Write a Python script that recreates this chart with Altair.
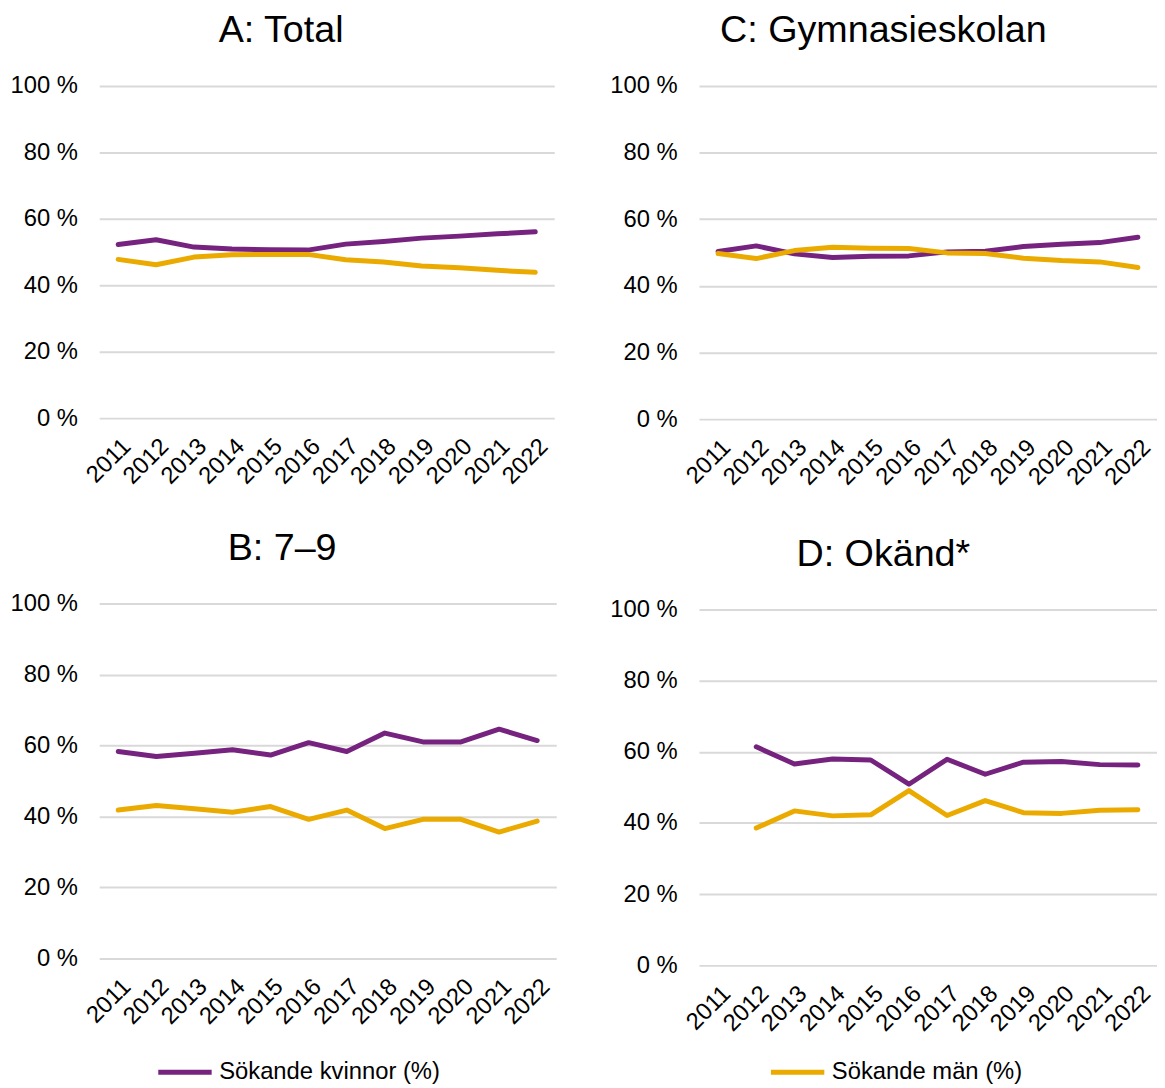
import altair as alt
import pandas as pd

FONT = "Liberation Sans"

years = list(range(2011, 2023))
series = ["Sökande kvinnor (%)", "Sökande män (%)"]
colors = ["#76237F", "#EBAA00"]

a_kvinnor = [52.3, 53.7, 51.5, 50.9, 50.7, 50.6, 52.4, 53.2, 54.2, 54.8, 55.5, 56.1]
a_man = [47.8, 46.2, 48.5, 49.2, 49.3, 49.3, 47.7, 47.0, 45.8, 45.3, 44.5, 43.9]

c_kvinnor = [50.3, 52.0, 49.6, 48.5, 48.9, 49.0, 50.2, 50.4, 51.8, 52.5, 53.0, 54.6]
c_man = [49.7, 48.2, 50.6, 51.6, 51.3, 51.2, 49.9, 49.7, 48.3, 47.6, 47.2, 45.5]

b_kvinnor = [58.3, 56.9, 57.8, 58.8, 57.3, 60.8, 58.3, 63.5, 61.0, 61.0, 64.6, 61.4]
b_man = [41.8, 43.1, 42.2, 41.2, 42.8, 39.2, 41.8, 36.6, 39.2, 39.2, 35.6, 38.7]

d_kvinnor = [None, 61.4, 56.6, 58.0, 57.7, 50.9, 57.9, 53.7, 57.1, 57.3, 56.4, 56.3]
d_man = [None, 38.6, 43.4, 42.0, 42.3, 49.1, 42.1, 46.3, 42.9, 42.7, 43.6, 43.7]

y_ticks = [0, 20, 40, 60, 80, 100]


def frame(kv, man):
    rows = []
    for yr, v in zip(years, kv):
        rows.append({"year": yr, "series": series[0], "value": v})
    for yr, v in zip(years, man):
        rows.append({"year": yr, "series": series[1], "value": v})
    return pd.DataFrame(rows)


legend = alt.Legend(
    orient="none", legendX=57, legendY=965, direction="horizontal", title=None,
    symbolType="stroke", symbolSize=2900, symbolStrokeWidth=5,
    labelFont=FONT, labelFontSize=24, labelColor="#000000", labelLimit=400,
    labelOffset=5, columnPadding=323,
)


def panel(title, kv, man, width, height, min_extent, title_offset):
    df = frame(kv, man)
    return alt.Chart(
        df,
        title=alt.Title(title, font=FONT, fontSize=38, fontWeight="normal", color="#000000",
                        offset=title_offset, anchor="middle", frame="bounds"),
    ).mark_line(strokeWidth=5, strokeCap="round", strokeJoin="round").encode(
        x=alt.X("year:O", scale=alt.Scale(type="point", padding=0.5, domain=years),
                axis=alt.Axis(title=None, labelAngle=-45, labelFont=FONT, labelFontSize=24,
                              labelColor="#000000", ticks=False, domain=False, grid=False,
                              labelPadding=16)),
        y=alt.Y("value:Q", scale=alt.Scale(domain=[0, 100]),
                axis=alt.Axis(title=None, values=y_ticks, labelExpr="datum.value + ' %'",
                              labelFont=FONT, labelFontSize=24, labelColor="#000000",
                              ticks=False, domain=False, grid=True, gridColor="#D9D9D9",
                              gridWidth=2, labelPadding=22, minExtent=min_extent)),
        color=alt.Color("series:N", scale=alt.Scale(domain=series, range=colors), legend=legend),
    ).properties(width=width, height=height)


A = panel("A: Total", a_kvinnor, a_man, 459, 335, 92, 24)
B = panel("B: 7–9", b_kvinnor, b_man, 461, 358, 92, 24)
C = panel("C: Gymnasieskolan", c_kvinnor, c_man, 462, 336, 90, 24)
D = panel("D: Okänd*", d_kvinnor, d_man, 462, 359, 90, 24)

left_col = alt.vconcat(A, B, spacing=42)
right_col = alt.vconcat(C, D, spacing=47)

chart = alt.hconcat(left_col, right_col, spacing=53).properties(padding=0).configure_view(stroke=None)

chart.save("out.html", embed_options={"renderer": "svg", "actions": False})
